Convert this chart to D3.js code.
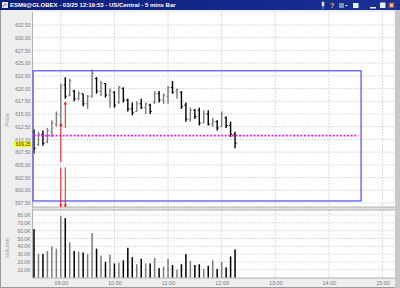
<!DOCTYPE html>
<html><head><meta charset="utf-8">
<script src="https://cdn.jsdelivr.net/npm/d3@7"></script>
<style>html,body{margin:0;padding:0;background:#fff;}svg{display:block;font-family:"Liberation Sans",Arial,sans-serif;}</style>
</head><body>
<script>
// ---- data ----
const titleText = "ESM9@GLOBEX - 03/25 12:19:53 - US/Central - 5 mins Bar";
const barTimes = ["08:30","08:35","08:40","08:45","08:50","08:55","09:00","09:05","09:10","09:15","09:20","09:25","09:30","09:35","09:40","09:45","09:50","09:55","10:00","10:05","10:10","10:15","10:20","10:25","10:30","10:35","10:40","10:45","10:50","10:55","11:00","11:05","11:10","11:15","11:20","11:25","11:30","11:35","11:40","11:45","11:50","11:55","12:00","12:05","12:10","12:15"];
const opens  = [611.50,609.00,611.00,609.50,611.50,613.00,614.75,620.75,618.75,619.50,618.00,619.00,617.00,618.50,622.00,619.50,621.00,618.75,619.25,617.25,620.00,617.75,616.00,615.50,617.00,616.25,616.75,617.25,619.00,617.75,618.50,620.25,619.50,619.25,616.75,614.00,615.75,615.75,613.25,615.00,613.00,613.50,612.50,614.25,612.75,611.00];
const highs  = [612.00,611.50,611.75,612.25,613.75,615.50,621.00,622.25,622.00,619.75,619.50,619.00,618.75,623.75,622.25,621.50,621.00,620.00,619.50,620.50,620.25,618.00,617.25,617.50,618.00,617.25,617.00,619.50,619.50,619.00,620.50,621.50,620.00,619.50,617.25,616.25,616.00,616.25,615.75,615.75,614.25,613.75,615.50,614.50,613.50,611.50];
const lows   = [607.25,608.75,608.75,609.25,610.50,612.50,612.50,618.00,618.50,617.50,617.75,616.50,616.00,618.25,619.00,618.50,618.25,616.25,616.25,617.00,617.25,615.50,614.75,615.50,616.00,615.00,615.00,617.00,617.25,617.00,617.00,619.00,618.00,616.00,613.50,613.50,614.00,612.75,613.25,612.75,612.50,611.75,612.50,612.25,610.50,608.25];
const closes = [608.25,611.00,609.25,611.75,613.25,615.00,620.50,618.50,621.50,618.00,619.00,617.00,618.50,623.00,619.50,621.00,618.75,619.50,616.75,620.25,617.75,616.00,615.25,617.00,616.25,617.00,615.50,619.00,617.75,618.75,620.25,619.25,619.75,616.50,614.00,615.75,614.50,613.25,615.00,613.00,613.50,612.25,615.00,612.75,611.00,609.25];
const volumes = [62000,30000,30000,34000,40000,37000,79000,76000,45000,34000,33000,32000,30000,57000,37000,28000,20000,29000,18000,19000,22000,38000,26000,17000,24000,18000,18000,25000,12000,14000,24000,16000,10000,17000,30000,21000,16000,17000,11000,15000,22000,11000,20000,13000,27000,36000];
const priceTicks = [597.5,600,602.5,605,607.5,610,612.5,615,617.5,620,622.5,625,627.5,630,632.5];
const volumeTicks = [10000,20000,30000,40000,50000,60000,70000,80000];
const timeTicks = ["09:00","10:00","11:00","12:00","13:00","14:00","15:00"];
const lastPrice = 609.25;
const pivotPrice = 610.75, pivotStart = "08:30", pivotEnd = "14:33";
const boxStart = "08:29", boxEnd = "14:36", boxHigh = 623.5, boxLow = 597.9;
// red arrows: [time, fromPrice(tail), toPrice(tip)]
const upArrows = [["09:00",605.5,613.25],["09:05",612.25,617.5]];
const downArrows = [["09:00",604.5,596.6],["09:05",604.5,596.6]];

// ---- layout ----
const W=400,H=288;
const toMin = s => { const [h,m]=s.split(":").map(Number); return h*60+m; };
const L=32.5, R=395, pTop=12, pBot=207, vTop=210, vBot=278;
const x = d3.scaleLinear().domain([toMin("09:00"), toMin("15:00")]).range([60.8, 382.5]);
const y = d3.scaleLinear().domain([597.5, 632.5]).range([203, 25]);
const yv = d3.scaleLinear().domain([0, 80000]).range([277.5, 215]);

const svg = d3.select("body").append("svg").attr("width",W).attr("height",H);
// window background
svg.append("rect").attr("width",W).attr("height",H).attr("fill","#eeeeee");
svg.append("rect").attr("x",0.5).attr("y",0.5).attr("width",W-1).attr("height",H-1).attr("fill","none").attr("stroke","#9a9a9a");
svg.append("rect").attr("x",R).attr("y",10).attr("width",W-R).attr("height",H-10).attr("fill","#c8c8c8");

// title bar
const defs = svg.append("defs");
const grad = defs.append("linearGradient").attr("id","tb");
grad.append("stop").attr("offset","0").attr("stop-color","#0c1f7a");
grad.append("stop").attr("offset","1").attr("stop-color","#1a2f96");
svg.append("rect").attr("x",0).attr("y",0).attr("width",W).attr("height",10).attr("fill","url(#tb)");
svg.append("rect").attr("x",2).attr("y",2).attr("width",6).attr("height",6).attr("fill","#dfe6f5");
svg.append("path").attr("d","M3,7 L5,4 L7,5").attr("stroke","#c03030").attr("fill","none").attr("stroke-width",0.8);
svg.append("text").attr("x",10).attr("y",7.3).attr("fill","#fff").attr("font-size",6).attr("font-weight","bold").text(titleText);
// title icons
const ic = svg.append("g");
ic.append("path").attr("d","M322,2 h2 v4 h-2z M323,6 v3").attr("fill","#ddd").attr("stroke","#ddd").attr("stroke-width",0.6);
ic.append("text").attr("x",330).attr("y",8).attr("fill","#f0c020").attr("font-size",7).attr("font-weight","bold").text("?");
ic.append("rect").attr("x",339).attr("y",3).attr("width",5).attr("height",5).attr("fill","#8090a8");
ic.append("path").attr("d","M345,5 l1.5,1.5 l1.5,-1.5z").attr("fill","#ddd");
ic.append("rect").attr("x",353).attr("y",3).attr("width",5.5).attr("height",5).attr("fill","#e8eef8");
ic.append("rect").attr("x",370).attr("y",7).attr("width",6).attr("height",1.5).attr("fill","#e8eef8");
ic.append("rect").attr("x",380).attr("y",2.5).attr("width",5.5).attr("height",5.5).attr("fill","#e8eef8");
ic.append("rect").attr("x",388.5).attr("y",2.5).attr("width",6).attr("height",5.5).attr("fill","#a05040");
ic.append("rect").attr("x",390).attr("y",3.5).attr("width",3).attr("height",3.5).attr("fill","#e0c0b0");

// panels
svg.append("rect").attr("x",L).attr("y",pTop).attr("width",R-L).attr("height",pBot-pTop).attr("fill","#fff");
svg.append("rect").attr("x",L).attr("y",vTop).attr("width",R-L).attr("height",vBot-vTop).attr("fill","#fff");

const gridStyle = s => s.attr("stroke","#c4c4c4").attr("stroke-width",0.8).attr("stroke-dasharray","1.5,1.5");
// price grid
gridStyle(svg.append("g").selectAll("line").data(priceTicks).join("line")
  .attr("x1",L).attr("x2",R).attr("y1",d=>y(d)).attr("y2",d=>y(d)));
gridStyle(svg.append("g").selectAll("line").data(timeTicks).join("line")
  .attr("x1",d=>x(toMin(d))).attr("x2",d=>x(toMin(d))).attr("y1",pTop).attr("y2",pBot));
// volume grid
gridStyle(svg.append("g").selectAll("line").data(volumeTicks).join("line")
  .attr("x1",L).attr("x2",R).attr("y1",d=>yv(d)).attr("y2",d=>yv(d)));
gridStyle(svg.append("g").selectAll("line").data(timeTicks).join("line")
  .attr("x1",d=>x(toMin(d))).attr("x2",d=>x(toMin(d))).attr("y1",vTop).attr("y2",vBot));

// panel borders
svg.append("line").attr("x1",L).attr("x2",L).attr("y1",pTop).attr("y2",vBot).attr("stroke","#a0a0a0").attr("stroke-width",0.8);
svg.append("rect").attr("x",L).attr("y",pBot).attr("width",R-L).attr("height",vTop-pBot).attr("fill","#e4e4e4");
svg.append("line").attr("x1",L).attr("x2",R).attr("y1",pBot).attr("y2",pBot).attr("stroke","#a0a0a0").attr("stroke-width",0.8);
svg.append("line").attr("x1",L).attr("x2",R).attr("y1",vTop).attr("y2",vTop).attr("stroke","#a0a0a0").attr("stroke-width",0.8);
svg.append("line").attr("x1",L).attr("x2",R).attr("y1",vBot).attr("y2",vBot).attr("stroke","#a0a0a0").attr("stroke-width",0.8);

// axes labels (D3 axes, styled)
const yAxis = d3.axisLeft(y).tickValues(priceTicks).tickFormat(d3.format(".2f")).tickSize(0).tickPadding(2);
const ga = svg.append("g").attr("transform",`translate(${L},0)`).call(yAxis);
ga.select(".domain").remove();
ga.selectAll("text").attr("font-size",5).attr("fill","#7a7a7a").attr("font-family","Liberation Sans, Arial, sans-serif");
const vAxis = d3.axisLeft(yv).tickValues(volumeTicks).tickFormat(d=>(d/1000).toFixed(1)+"K").tickSize(0).tickPadding(2);
const gv = svg.append("g").attr("transform",`translate(${L},0)`).call(vAxis);
gv.select(".domain").remove();
gv.selectAll("text").attr("font-size",5).attr("fill","#7a7a7a").attr("font-family","Liberation Sans, Arial, sans-serif");
const xAxis = d3.axisBottom(x).tickValues(timeTicks.map(toMin)).tickFormat((d,i)=>timeTicks[i]).tickSize(0).tickPadding(3);
const gx = svg.append("g").attr("transform",`translate(0,${vBot})`).call(xAxis);
gx.select(".domain").remove();
gx.selectAll("text").attr("font-size",5.5).attr("fill","#7a7a7a").attr("font-family","Liberation Sans, Arial, sans-serif");

svg.append("text").attr("transform","translate(9,120) rotate(-90)").attr("text-anchor","middle").attr("font-size",6).attr("fill","#9a9a9a").text("Price");
svg.append("text").attr("transform","translate(9,248) rotate(-90)").attr("text-anchor","middle").attr("font-size",6).attr("fill","#9a9a9a").text("Volume");

// last price label
const ly = y(lastPrice)+1;
svg.append("rect").attr("x",13.5).attr("y",ly-2.6).attr("width",17.5).attr("height",5.2).attr("fill","#ffff00");
svg.append("text").attr("x",L-2).attr("y",ly).attr("dy","0.32em").attr("text-anchor","end").attr("font-size",4.8).attr("fill","#333").text(lastPrice.toFixed(2));

// bars
const bars = barTimes.map((t,i)=>({t:toMin(t),o:opens[i],h:highs[i],l:lows[i],c:closes[i],v:volumes[i]}));
const col = d => d.c >= d.o ? "#7c7c7c" : "#000";
const gb = svg.append("g");
gb.selectAll("line.hl").data(bars).join("line").attr("class","hl")
  .attr("x1",d=>x(d.t)).attr("x2",d=>x(d.t)).attr("y1",d=>y(d.h)).attr("y2",d=>y(d.l))
  .attr("stroke",col).attr("stroke-width",1.4);
gb.selectAll("line.o").data(bars).join("line").attr("class","o")
  .attr("x1",d=>x(d.t)-1.6).attr("x2",d=>x(d.t)).attr("y1",d=>y(d.o)).attr("y2",d=>y(d.o))
  .attr("stroke",col).attr("stroke-width",1);
gb.selectAll("line.c").data(bars).join("line").attr("class","c")
  .attr("x1",d=>x(d.t)).attr("x2",d=>x(d.t)+1.6).attr("y1",d=>y(d.c)).attr("y2",d=>y(d.c))
  .attr("stroke",col).attr("stroke-width",1);
// volume bars
svg.append("g").selectAll("rect").data(bars).join("rect")
  .attr("x",d=>x(d.t)-0.75).attr("width",1.5).attr("y",d=>yv(d.v)).attr("height",d=>yv(0)-yv(d.v))
  .attr("fill",col);

// blue box
svg.append("rect").attr("x",x(toMin(boxStart))).attr("y",y(boxHigh))
  .attr("width",x(toMin(boxEnd))-x(toMin(boxStart))).attr("height",y(boxLow)-y(boxHigh))
  .attr("fill","none").attr("stroke","#5b5bef").attr("stroke-width",1.3);

// magenta dotted pivot
svg.append("line").attr("x1",x(toMin(pivotStart))).attr("x2",x(toMin(pivotEnd)))
  .attr("y1",y(pivotPrice)).attr("y2",y(pivotPrice))
  .attr("stroke","#ff00ff").attr("stroke-width",1.8).attr("stroke-dasharray","1.8,1.8");

// red arrows
function arrow(t,p0,p1){
  const xx = x(toMin(t)), y0 = y(p0), y1 = y(p1);
  const dir = y1 < y0 ? 1 : -1;
  svg.append("line").attr("x1",xx).attr("x2",xx).attr("y1",y0).attr("y2",y1+dir*2).attr("stroke","#ee1111").attr("stroke-width",1);
  svg.append("path").attr("d",`M${xx},${y1} L${xx-1.6},${y1+dir*3.2} L${xx+1.6},${y1+dir*3.2}Z`).attr("fill","#ee1111");
}
upArrows.forEach(a=>arrow(...a));
downArrows.forEach(a=>arrow(...a));
</script>
</body></html>
